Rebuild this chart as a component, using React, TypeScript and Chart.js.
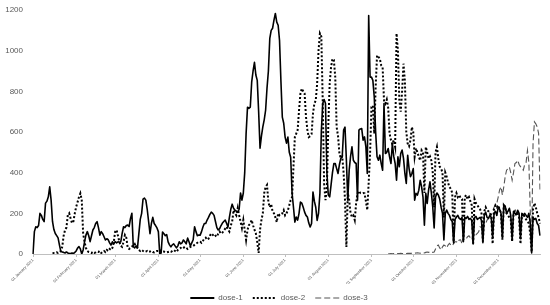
import { useEffect, useRef } from 'react';
import { Chart, registerables } from 'chart.js';

Chart.register(...registerables);

// ---- categories ----
const year = 2021;
const monthNames = ['January', 'February', 'March', 'April', 'May', 'June', 'July', 'August', 'September', 'October', 'November', 'December'];
const monthDays = [31, 28, 31, 30, 31, 30, 31, 31, 30, 31, 30, 31];

const dayLabels: string[] = [];
const monthStartIdx = new Set<number>();
monthNames.forEach((m, mi) => {
  for (let d = 1; d <= monthDays[mi]; d++) {
    if (d === 1) monthStartIdx.add(dayLabels.length);
    dayLabels.push(`${String(d).padStart(2, '0')} ${m} ${year}`);
  }
});

// ---- y ticks ----
const yMin = 0;
const yMax = 1200;
const yStep = 200;

// ---- series (daily values) ----
const dose1 = [
  // Jan
  0, 110, 134, 130, 140, 200, 190, 170, 159, 250, 260, 281, 330, 265, 160, 120, 101, 90, 79, 44, 12, 10, 8, 5, 10, 5, 3, 2, 5, 2, 8,
  // Feb
  15, 29, 36, 25, 0, 20, 60, 93, 110, 90, 61, 90, 118, 130, 150, 159, 130, 93, 110, 100, 85, 69, 75, 70, 55, 44, 60, 50,
  // Mar
  61, 55, 60, 58, 60, 101, 134, 130, 140, 142, 135, 175, 200, 36, 30, 40, 30, 100, 170, 200, 270, 275, 265, 220, 160, 100, 150, 180, 150, 140, 128,
  // Apr
  110, 0, 5, 108, 100, 90, 95, 60, 45, 35, 45, 50, 40, 30, 40, 60, 50, 55, 69, 60, 50, 78, 60, 40, 55, 70, 134, 110, 90, 93,
  // May
  93, 110, 133, 150, 150, 167, 180, 195, 206, 200, 190, 160, 130, 118, 125, 140, 152, 160, 167, 150, 133, 180, 220, 245, 225, 215, 211, 206, 220, 300, 265,
  // Jun
  300, 400, 593, 722, 716, 722, 845, 900, 943, 880, 854, 700, 520, 580, 625, 660, 707, 815, 900, 1060, 1100, 1110, 1150, 1183, 1140, 1125, 1050, 850, 673, 643,
  // Jul
  575, 545, 575, 500, 476, 300, 230, 157, 182, 167, 200, 255, 250, 230, 206, 190, 182, 152, 133, 150, 305, 260, 230, 165, 200, 300, 600, 740, 760, 740, 400,
  // Aug
  290, 281, 340, 400, 445, 445, 420, 396, 440, 470, 478, 609, 624, 461, 265, 412, 480, 527, 461, 450, 445, 265, 609, 615, 617, 560, 576, 527, 396, 1173, 870,
  // Sep
  870, 854, 772, 600, 478, 461, 486, 445, 412, 740, 494, 500, 519, 478, 445, 543, 480, 445, 363, 478, 429, 494, 511, 470, 396, 347, 486, 420, 380, 396,
  // Oct
  420, 265, 298, 290, 314, 363, 330, 280, 142, 298, 249, 314, 355, 300, 232, 128, 280, 300, 290, 270, 230, 200, 69, 200, 216, 200, 190, 170, 160, 54, 170,
  // Nov
  182, 190, 175, 170, 180, 60, 180, 175, 185, 170, 175, 165, 50, 180, 185, 170, 175, 180, 165, 55, 190, 206, 180, 175, 190, 180, 80, 200, 210, 190,
  // Dec
  230, 220, 200, 80, 240, 235, 200, 210, 225, 190, 70, 210, 200, 195, 215, 200, 75, 200, 190, 200, 190, 180, 200, 150, 5, 180, 170, 175, 150, 140, 90,
];

const dose2StartDay = 14;
const dose2 = [
  // Jan (from 15 Jan)
  3, 5, 5, 8, 5, 10, 15, 36, 90, 118, 130, 191, 200, 175, 152, 160, 200,
  // Feb
  232, 255, 280, 298, 265, 101, 60, 30, 15, 10, 8, 5, 10, 5, 8, 12, 10, 15, 5, 10, 15, 10, 20, 15, 25, 20, 30, 60,
  // Mar
  110, 118, 90, 60, 40, 35, 60, 93, 80, 30, 25, 30, 35, 45, 50, 35, 30, 20, 15, 20, 15, 10, 12, 15, 10, 12, 15, 10, 8, 12, 15,
  // Apr
  15, 20, 15, 10, 12, 10, 8, 10, 12, 10, 15, 20, 15, 10, 20, 25, 30, 25, 30, 35, 30, 25, 30, 35, 36, 40, 45, 50, 55, 60,
  // May
  60, 55, 65, 75, 80, 70, 75, 90, 101, 95, 85, 90, 85, 100, 110, 100, 105, 115, 125, 134, 120, 110, 140, 159, 216, 200, 190, 226, 190, 160, 128,
  // Jun
  167, 118, 69, 118, 142, 150, 167, 140, 120, 101, 60, 5, 120, 167, 200, 300, 330, 340, 255, 230, 245, 210, 200, 180, 157, 200, 190, 195, 200, 215,
  // Jul
  190, 200, 215, 240, 265, 280, 428, 575, 592, 610, 707, 789, 814, 800, 789, 674, 610, 575, 580, 590, 690, 740, 755, 838, 1000, 1085, 1070, 755, 347, 265, 330,
  // Aug
  630, 838, 920, 960, 955, 870, 624, 580, 494, 470, 480, 400, 265, 35, 300, 265, 200, 183, 190, 167, 250, 298, 310, 300, 298, 300, 298, 260, 216, 350, 494,
  // Sep
  723, 730, 592, 821, 977, 970, 960, 928, 920, 756, 740, 760, 720, 592, 560, 540, 560, 527, 1085, 1000, 756, 700, 800, 936, 850, 600, 543, 530, 560, 624,
  // Oct
  600, 478, 520, 500, 478, 460, 510, 500, 300, 527, 500, 470, 480, 460, 400, 230, 500, 527, 470, 430, 420, 400, 180, 400, 380, 350, 330, 320, 300, 60, 280,
  // Nov
  300, 280, 290, 275, 270, 70, 280, 290, 270, 280, 260, 240, 50, 270, 250, 240, 230, 220, 200, 60, 210, 230, 215, 210, 200, 190, 50, 220, 240, 230,
  // Dec
  240, 220, 200, 70, 240, 230, 200, 190, 180, 170, 60, 200, 210, 190, 200, 180, 50, 190, 200, 180, 170, 160, 150, 100, 10, 220, 250, 230, 200, 180, 150,
];

const dose3StartDay = 255;
const dose3 = [
  // Sep (from 13 Sep)
  1, 1, 2, 1, 2, 2, 3, 2, 2, 3, 2, 3, 3, 2, 3, 4, 3, 4,
  // Oct
  5, 4, 5, 6, 5, 4, 6, 8, 5, 8, 10, 8, 10, 12, 8, 10, 25, 40, 44, 30, 20, 35, 44, 40, 30, 44, 52, 45, 40, 52, 60,
  // Nov
  60, 55, 69, 70, 50, 85, 80, 75, 85, 90, 80, 70, 101, 100, 95, 101, 110, 134, 130, 134, 140, 150, 167, 175, 200, 190, 210, 230, 240, 250,
  // Dec
  280, 315, 330, 290, 330, 380, 412, 420, 428, 400, 363, 400, 445, 450, 461, 440, 430, 420, 412, 440, 450, 510, 450, 216, 35, 543, 650, 640, 625, 593, 314,
];

const seriesNames = ['dose-1', 'dose-2', 'dose-3'];

const toPoints = (start: number, values: number[]) =>
  values.map((v, i) => ({ x: dayLabels[start + i], y: v }));

const FONT = "'Liberation Sans', Arial, sans-serif";
const TEXT = '#595959';
const AXIS = '#bfbfbf';

const legendShift = {
  id: 'legendShift',
  afterLayout(chart: any) {
    if (chart.legend) {
      chart.legend.left += 9;
      chart.legend.right += 9;
    }
  },
};

export default function App() {
  const ref = useRef<HTMLCanvasElement | null>(null);

  useEffect(() => {
    if (!ref.current) return;
    const chart = new Chart(ref.current, {
      type: 'line',
      data: {
        labels: dayLabels,
        datasets: [
          {
            label: seriesNames[0],
            data: toPoints(0, dose1),
            borderColor: '#000000',
            backgroundColor: '#000000',
            borderWidth: 1.6,
            pointRadius: 0,
            tension: 0,
            borderJoinStyle: 'round',
          },
          {
            label: seriesNames[1],
            data: toPoints(dose2StartDay, dose2),
            borderColor: '#000000',
            backgroundColor: '#000000',
            borderWidth: 2,
            borderDash: [2, 2],
            pointRadius: 0,
            tension: 0,
          },
          {
            label: seriesNames[2],
            data: toPoints(dose3StartDay, dose3),
            borderColor: '#555555',
            backgroundColor: '#555555',
            borderWidth: 1.1,
            borderDash: [6, 3],
            pointRadius: 0,
            tension: 0,
          },
        ] as any,
      },
      options: {
        responsive: false,
        animation: false,
        layout: { padding: { left: 0, right: 10, top: 10, bottom: -7 } },
        plugins: {
          tooltip: { enabled: false },
          legend: {
            position: 'bottom',
            labels: {
              usePointStyle: true,
              pointStyle: 'line',
              pointStyleWidth: 24,
              padding: 10,
              color: TEXT,
              font: { family: FONT, size: 8 },
              generateLabels: (ch: any) =>
                ch.data.datasets.map((ds: any, i: number) => ({
                  text: ds.label,
                  datasetIndex: i,
                  hidden: false,
                  fillStyle: ds.borderColor,
                  strokeStyle: ds.borderColor,
                  lineWidth: ds.borderWidth + (i === 0 ? 0.4 : 0),
                  lineDash: ds.borderDash || [],
                  lineDashOffset: 0,
                  lineCap: 'butt',
                  lineJoin: 'miter',
                  pointStyle: 'line',
                  rotation: 0,
                  fontColor: TEXT,
                })),
            },
          },
        },
        scales: {
          x: {
            type: 'category',
            offset: false,
            afterFit: (scale: any) => {
              scale.height = 30;
            },
            grid: {
              display: true,
              drawOnChartArea: false,
              drawTicks: true,
              tickLength: 3,
              color: (ctx: any) => (monthStartIdx.has(ctx.index) ? AXIS : 'rgba(0,0,0,0)'),
            },
            border: { display: true, color: AXIS, width: 1 },
            ticks: {
              autoSkip: false,
              minRotation: 45,
              maxRotation: 45,
              padding: 1,
              color: TEXT,
              font: { family: FONT, size: 4 },
              callback: (_v: any, index: number) => (monthStartIdx.has(index) ? dayLabels[index] : ''),
            },
          },
          y: {
            min: yMin,
            max: yMax,
            afterFit: (scale: any) => {
              scale.width = 33;
              scale.paddingTop = 0;
              scale.paddingBottom = 0;
            },
            grid: { display: false, drawTicks: false },
            border: { display: false },
            ticks: {
              stepSize: yStep,
              padding: 10,
              color: TEXT,
              font: { family: FONT, size: 8 },
              callback: (v: any) => String(v),
            },
          },
        },
      } as any,
      plugins: [legendShift],
    });
    return () => chart.destroy();
  }, []);

  return (
    <div style={{ position: 'absolute', left: 0, top: 0, width: 550, height: 305, background: '#ffffff' }}>
      <canvas ref={ref} width={550} height={305} style={{ display: 'block' }} />
    </div>
  );
}
